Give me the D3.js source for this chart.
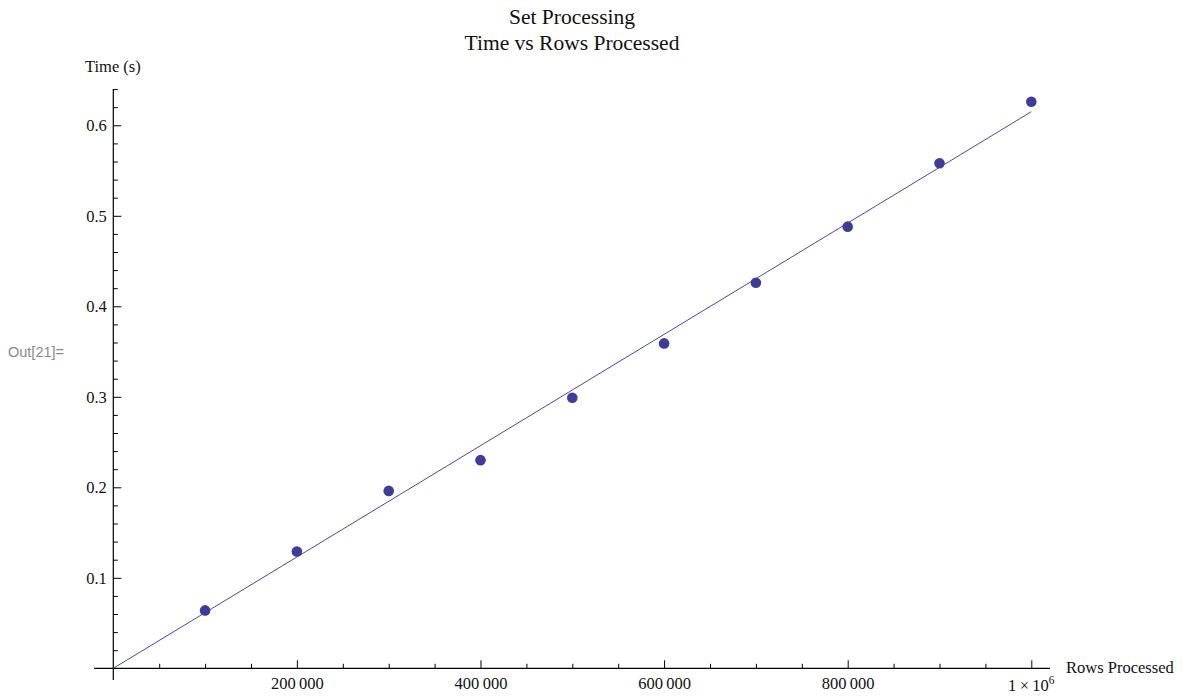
<!DOCTYPE html>
<html>
<head>
<meta charset="utf-8">
<script src="https://cdn.jsdelivr.net/npm/d3@7/dist/d3.min.js"></script>
<style>
  body { margin: 0; background: #fff; }
  svg text { font-family: "Liberation Serif", "Times New Roman", serif; fill: #111; }
</style>
</head>
<body>
<svg id="chart" width="1183" height="696"></svg>
<script>
  // data
  var rows  = [100000, 200000, 300000, 400000, 500000, 600000, 700000, 800000, 900000, 1000000];
  var times = [0.064, 0.129, 0.196, 0.230, 0.299, 0.359, 0.426, 0.488, 0.558, 0.626];

  // fitted line (through origin)
  var fitSlope = 6.15e-7;
  var fitIntercept = 0;
  var fitRange = [0, 1000000];

  var xMajor = [200000, 400000, 600000, 800000, 1000000];
  var yMajor = [0.1, 0.2, 0.3, 0.4, 0.5, 0.6];
  var xMinor = d3.range(50000, 1000001, 50000).filter(function (v) { return xMajor.indexOf(v) < 0; });
  var yMinor = d3.range(1, 33).map(function (i) { return +(i * 0.02).toFixed(2); })
                 .filter(function (v) { return yMajor.indexOf(v) < 0; });

  var xAxisExtent = [-21000, 1020500];
  var yAxisExtent = [-0.013, 0.64];

  var svg = d3.select("#chart");
  var x = d3.scaleLinear().domain([0, 1000000]).range([113.3, 1031.3]);
  var y = d3.scaleLinear().domain([0, 0.6]).range([668.3, 125.3]);

  var blue = "#3d3d99";

  // titles
  svg.append("text").attr("x", 572).attr("y", 24).attr("text-anchor", "middle")
     .style("font-size", "21.5px").text("Set Processing");
  svg.append("text").attr("x", 572).attr("y", 50).attr("text-anchor", "middle")
     .style("font-size", "21.5px").text("Time vs Rows Processed");

  // Out[21]= cell label
  svg.append("text").attr("x", 8).attr("y", 357)
     .style("font-family", "'Liberation Sans', Arial, sans-serif")
     .style("font-size", "14.5px").style("fill", "#8a8a8a").text("Out[21]=");

  function fmtX ( v ) {
    if ( v == 1000000 ) return "";
    var s = String(v);
    return s.slice(0, s.length - 3) + "\u2009" + s.slice(s.length - 3);
  }

  // x axis
  var gx = svg.append("g").attr("transform", "translate(0," + y(0) + ")");
  gx.append("line").attr("x1", x(xAxisExtent[0])).attr("x2", x(xAxisExtent[1]))
    .attr("stroke", "#000").attr("stroke-width", 1.2);
  gx.append("g").call(d3.axisBottom(x).tickValues(xMinor).tickFormat("").tickSizeInner(-4.5).tickSizeOuter(0))
    .call(function (g) { g.select(".domain").remove(); });
  gx.append("g").call(d3.axisBottom(x).tickValues(xMajor).tickFormat(fmtX).tickSizeInner(-8).tickSizeOuter(0).tickPadding(9))
    .call(function (g) { g.select(".domain").remove(); });
  gx.selectAll("line").attr("stroke", "#000");
  gx.selectAll(".tick text").style("font-size", "16.5px").style("font-family", "'Liberation Serif', serif").attr("fill", "#111");

  // 1 x 10^6 label
  var big = svg.append("text").attr("x", x(1000000)).attr("y", 691).attr("text-anchor", "middle")
     .style("font-size", "16.5px");
  big.append("tspan").text("1\u2009\u00d7\u200910");
  big.append("tspan").attr("dy", -7).style("font-size", "11.5px").text("6");

  // y axis
  var gy = svg.append("g").attr("transform", "translate(" + x(0) + ",0)");
  gy.append("line").attr("y1", y(yAxisExtent[0])).attr("y2", y(yAxisExtent[1]))
    .attr("stroke", "#000").attr("stroke-width", 1.2);
  gy.append("g").call(d3.axisLeft(y).tickValues(yMinor).tickFormat("").tickSizeInner(-4.5).tickSizeOuter(0))
    .call(function (g) { g.select(".domain").remove(); });
  gy.append("g").call(d3.axisLeft(y).tickValues(yMajor).tickFormat(d3.format(".1f")).tickSizeInner(-8).tickSizeOuter(0).tickPadding(6.5))
    .call(function (g) { g.select(".domain").remove(); });
  gy.selectAll("line").attr("stroke", "#000");
  gy.selectAll(".tick text").style("font-size", "16.5px").style("font-family", "'Liberation Serif', serif").attr("fill", "#111");

  // axis labels
  svg.append("text").attr("x", 85).attr("y", 72).style("font-size", "16.5px").text("Time (s)");
  svg.append("text").attr("x", 1066).attr("y", 673).style("font-size", "16.5px").text("Rows Processed");

  // fit line
  svg.append("line")
     .attr("x1", x(fitRange[0])).attr("y1", y(fitIntercept + fitSlope * fitRange[0]))
     .attr("x2", x(fitRange[1])).attr("y2", y(fitIntercept + fitSlope * fitRange[1]))
     .attr("stroke", "#4a4aa8").attr("stroke-width", 1);

  // points
  svg.append("g").selectAll("circle")
     .data(rows.map(function (r, i) { return [r, times[i]]; }))
     .enter().append("circle")
     .attr("cx", function (d) { return x(d[0]); })
     .attr("cy", function (d) { return y(d[1]); })
     .attr("r", 5.3)
     .attr("fill", blue);
</script>
</body>
</html>
